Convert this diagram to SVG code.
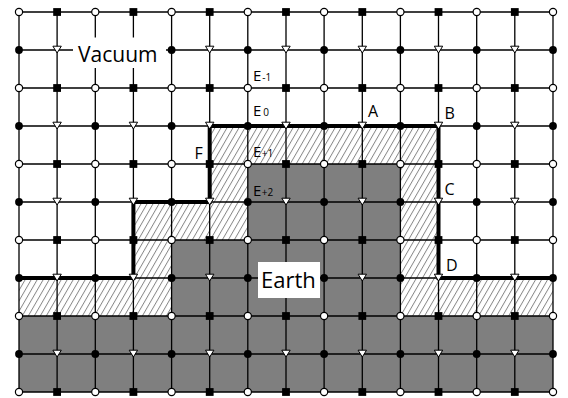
<svg xmlns="http://www.w3.org/2000/svg" xmlns:xlink="http://www.w3.org/1999/xlink" width="568" height="398" viewBox="0 0 568 398">
<style>
.grid{stroke:#000;stroke-width:1.3;fill:none}
.bound{stroke:#000;stroke-width:4;fill:none;stroke-linejoin:miter;stroke-linecap:square}
.lbl{font-family:"Open Sans","Liberation Sans",sans-serif;fill:#000}
.big{font-size:21px}
.let{font-size:16px}
.e{font-size:15px}
.sub{font-size:10px}
</style>
<defs>
<pattern id="hatch" patternUnits="userSpaceOnUse" width="5.2" height="10" patternTransform="rotate(30)">
<rect width="5.2" height="10" fill="#fff"/>
<line x1="0.5" y1="0" x2="0.5" y2="10" stroke="#555" stroke-width="0.7"/>
</pattern>
<circle id="oc" r="3.6" fill="#fff" stroke="#000" stroke-width="1.2"/>
<rect id="sq" x="-3.9" y="-3.9" width="7.8" height="7.8" fill="#000"/>
<circle id="dot" r="3.9" fill="#000"/>
<polygon id="tri" points="-4.2,-3.8 4.2,-3.8 0,3" fill="#fff" stroke="#000" stroke-width="1"/>
</defs>
<rect width="568" height="398" fill="#fff"/>
<g id="regions">
<path id="hatched" fill="url(#hatch)" d="M19,278 H133.4 V202 H209.7 V126 H438.5 V278 H553 V316 H400.4 V164 H247.8 V240 H171.6 V316 H19 Z"/>
<path id="earth-fill" fill="#7f7f7f" d="M19,316 H171.6 V240 H247.8 V164 H400.4 V316 H553 V392 H19 Z"/>
</g>
<g id="connectors" class="grid">
<path d="M19,12 H553 M19,50 H553 M19,88 H553 M19,126 H553 M19,164 H553 M19,202 H553 M19,240 H553 M19,278 H553 M19,316 H553 M19,354 H553 M19,392 H553"/>
<path d="M19,12 V392 M57.1,12 V392 M95.3,12 V392 M133.4,12 V392 M171.6,12 V392 M209.7,12 V392 M247.8,12 V392 M286,12 V392 M324.1,12 V392 M362.3,12 V392 M400.4,12 V392 M438.5,12 V392 M476.7,12 V392 M514.8,12 V392 M553,12 V392"/>
</g>
<path id="boundary" class="bound" d="M19,278 H133.4 V202 H209.7 V126 H438.5 V278 H553"/>
<g id="vacuum-label">
<rect x="73" y="37.5" width="93" height="30.5" fill="#fff"/>
<text class="lbl big" x="78" y="61.7">Vacuum</text>
</g>
<g id="earth-label">
<rect x="258" y="262" width="62" height="36" fill="#fff"/>
<text class="lbl big" x="261" y="288" style="font-size:22px">Earth</text>
</g>
<g id="nodes">
<g id="row0">
<use xlink:href="#oc" x="19" y="12"/><use xlink:href="#sq" x="57.1" y="12"/><use xlink:href="#oc" x="95.3" y="12"/><use xlink:href="#sq" x="133.4" y="12"/><use xlink:href="#oc" x="171.6" y="12"/><use xlink:href="#sq" x="209.7" y="12"/><use xlink:href="#oc" x="247.8" y="12"/><use xlink:href="#sq" x="286" y="12"/><use xlink:href="#oc" x="324.1" y="12"/><use xlink:href="#sq" x="362.3" y="12"/><use xlink:href="#oc" x="400.4" y="12"/><use xlink:href="#sq" x="438.5" y="12"/><use xlink:href="#oc" x="476.7" y="12"/><use xlink:href="#sq" x="514.8" y="12"/><use xlink:href="#oc" x="553" y="12"/>
</g>
<g id="row1">
<use xlink:href="#dot" x="19" y="50"/><use xlink:href="#tri" x="57.1" y="50"/><use xlink:href="#dot" x="171.6" y="50"/><use xlink:href="#tri" x="209.7" y="50"/><use xlink:href="#dot" x="247.8" y="50"/><use xlink:href="#tri" x="286" y="50"/><use xlink:href="#dot" x="324.1" y="50"/><use xlink:href="#tri" x="362.3" y="50"/><use xlink:href="#dot" x="400.4" y="50"/><use xlink:href="#tri" x="438.5" y="50"/><use xlink:href="#dot" x="476.7" y="50"/><use xlink:href="#tri" x="514.8" y="50"/><use xlink:href="#dot" x="553" y="50"/>
</g>
<g id="row2">
<use xlink:href="#oc" x="19" y="88"/><use xlink:href="#sq" x="57.1" y="88"/><use xlink:href="#oc" x="95.3" y="88"/><use xlink:href="#sq" x="133.4" y="88"/><use xlink:href="#oc" x="171.6" y="88"/><use xlink:href="#sq" x="209.7" y="88"/><use xlink:href="#oc" x="247.8" y="88"/><use xlink:href="#sq" x="286" y="88"/><use xlink:href="#oc" x="324.1" y="88"/><use xlink:href="#sq" x="362.3" y="88"/><use xlink:href="#oc" x="400.4" y="88"/><use xlink:href="#sq" x="438.5" y="88"/><use xlink:href="#oc" x="476.7" y="88"/><use xlink:href="#sq" x="514.8" y="88"/><use xlink:href="#oc" x="553" y="88"/>
</g>
<g id="row3">
<use xlink:href="#dot" x="19" y="126"/><use xlink:href="#tri" x="57.1" y="126"/><use xlink:href="#dot" x="95.3" y="126"/><use xlink:href="#tri" x="133.4" y="126"/><use xlink:href="#dot" x="171.6" y="126"/><use xlink:href="#tri" x="209.7" y="126"/><use xlink:href="#dot" x="247.8" y="126"/><use xlink:href="#tri" x="286" y="126"/><use xlink:href="#dot" x="324.1" y="126"/><use xlink:href="#tri" x="362.3" y="126"/><use xlink:href="#dot" x="400.4" y="126"/><use xlink:href="#tri" x="438.5" y="126"/><use xlink:href="#dot" x="476.7" y="126"/><use xlink:href="#tri" x="514.8" y="126"/><use xlink:href="#dot" x="553" y="126"/>
</g>
<g id="row4">
<use xlink:href="#oc" x="19" y="164"/><use xlink:href="#sq" x="57.1" y="164"/><use xlink:href="#oc" x="95.3" y="164"/><use xlink:href="#sq" x="133.4" y="164"/><use xlink:href="#oc" x="171.6" y="164"/><use xlink:href="#sq" x="209.7" y="164"/><use xlink:href="#oc" x="247.8" y="164"/><use xlink:href="#sq" x="286" y="164"/><use xlink:href="#oc" x="324.1" y="164"/><use xlink:href="#sq" x="362.3" y="164"/><use xlink:href="#oc" x="400.4" y="164"/><use xlink:href="#sq" x="438.5" y="164"/><use xlink:href="#oc" x="476.7" y="164"/><use xlink:href="#sq" x="514.8" y="164"/><use xlink:href="#oc" x="553" y="164"/>
</g>
<g id="row5">
<use xlink:href="#dot" x="19" y="202"/><use xlink:href="#tri" x="57.1" y="202"/><use xlink:href="#dot" x="95.3" y="202"/><use xlink:href="#tri" x="133.4" y="202"/><use xlink:href="#dot" x="171.6" y="202"/><use xlink:href="#tri" x="209.7" y="202"/><use xlink:href="#dot" x="247.8" y="202"/><use xlink:href="#tri" x="286" y="202"/><use xlink:href="#dot" x="324.1" y="202"/><use xlink:href="#tri" x="362.3" y="202"/><use xlink:href="#dot" x="400.4" y="202"/><use xlink:href="#tri" x="438.5" y="202"/><use xlink:href="#dot" x="476.7" y="202"/><use xlink:href="#tri" x="514.8" y="202"/><use xlink:href="#dot" x="553" y="202"/>
</g>
<g id="row6">
<use xlink:href="#oc" x="19" y="240"/><use xlink:href="#sq" x="57.1" y="240"/><use xlink:href="#oc" x="95.3" y="240"/><use xlink:href="#sq" x="133.4" y="240"/><use xlink:href="#oc" x="171.6" y="240"/><use xlink:href="#sq" x="209.7" y="240"/><use xlink:href="#oc" x="247.8" y="240"/><use xlink:href="#sq" x="286" y="240"/><use xlink:href="#oc" x="324.1" y="240"/><use xlink:href="#sq" x="362.3" y="240"/><use xlink:href="#oc" x="400.4" y="240"/><use xlink:href="#sq" x="438.5" y="240"/><use xlink:href="#oc" x="476.7" y="240"/><use xlink:href="#sq" x="514.8" y="240"/><use xlink:href="#oc" x="553" y="240"/>
</g>
<g id="row7">
<use xlink:href="#dot" x="19" y="278"/><use xlink:href="#tri" x="57.1" y="278"/><use xlink:href="#dot" x="95.3" y="278"/><use xlink:href="#tri" x="133.4" y="278"/><use xlink:href="#dot" x="171.6" y="278"/><use xlink:href="#tri" x="209.7" y="278"/><use xlink:href="#dot" x="247.8" y="278"/><use xlink:href="#dot" x="324.1" y="278"/><use xlink:href="#tri" x="362.3" y="278"/><use xlink:href="#dot" x="400.4" y="278"/><use xlink:href="#tri" x="438.5" y="278"/><use xlink:href="#dot" x="476.7" y="278"/><use xlink:href="#tri" x="514.8" y="278"/><use xlink:href="#dot" x="553" y="278"/>
</g>
<g id="row8">
<use xlink:href="#oc" x="19" y="316"/><use xlink:href="#sq" x="57.1" y="316"/><use xlink:href="#oc" x="95.3" y="316"/><use xlink:href="#sq" x="133.4" y="316"/><use xlink:href="#oc" x="171.6" y="316"/><use xlink:href="#sq" x="209.7" y="316"/><use xlink:href="#oc" x="247.8" y="316"/><use xlink:href="#sq" x="286" y="316"/><use xlink:href="#oc" x="324.1" y="316"/><use xlink:href="#sq" x="362.3" y="316"/><use xlink:href="#oc" x="400.4" y="316"/><use xlink:href="#sq" x="438.5" y="316"/><use xlink:href="#oc" x="476.7" y="316"/><use xlink:href="#sq" x="514.8" y="316"/><use xlink:href="#oc" x="553" y="316"/>
</g>
<g id="row9">
<use xlink:href="#dot" x="19" y="354"/><use xlink:href="#tri" x="57.1" y="354"/><use xlink:href="#dot" x="95.3" y="354"/><use xlink:href="#tri" x="133.4" y="354"/><use xlink:href="#dot" x="171.6" y="354"/><use xlink:href="#tri" x="209.7" y="354"/><use xlink:href="#dot" x="247.8" y="354"/><use xlink:href="#tri" x="286" y="354"/><use xlink:href="#dot" x="324.1" y="354"/><use xlink:href="#tri" x="362.3" y="354"/><use xlink:href="#dot" x="400.4" y="354"/><use xlink:href="#tri" x="438.5" y="354"/><use xlink:href="#dot" x="476.7" y="354"/><use xlink:href="#tri" x="514.8" y="354"/><use xlink:href="#dot" x="553" y="354"/>
</g>
<g id="row10">
<use xlink:href="#oc" x="19" y="392"/><use xlink:href="#sq" x="57.1" y="392"/><use xlink:href="#oc" x="95.3" y="392"/><use xlink:href="#sq" x="133.4" y="392"/><use xlink:href="#oc" x="171.6" y="392"/><use xlink:href="#sq" x="209.7" y="392"/><use xlink:href="#oc" x="247.8" y="392"/><use xlink:href="#sq" x="286" y="392"/><use xlink:href="#oc" x="324.1" y="392"/><use xlink:href="#sq" x="362.3" y="392"/><use xlink:href="#oc" x="400.4" y="392"/><use xlink:href="#sq" x="438.5" y="392"/><use xlink:href="#oc" x="476.7" y="392"/><use xlink:href="#sq" x="514.8" y="392"/><use xlink:href="#oc" x="553" y="392"/>
</g>
</g>
<g id="labels" class="lbl">
<text class="e" x="253" y="80.5">E<tspan class="sub" dx="1">-1</tspan></text>
<text class="e" x="253" y="116">E<tspan class="sub" dx="2">0</tspan></text>
<text class="e" x="253" y="156.5">E<tspan class="sub" dx="0.5">+1</tspan></text>
<text class="e" x="253" y="196">E<tspan class="sub" dx="0.5">+2</tspan></text>
<text class="let" x="368" y="116.7">A</text>
<text class="let" x="444.5" y="119">B</text>
<text class="let" x="444.5" y="195">C</text>
<text class="let" x="446" y="270.7">D</text>
<text class="let" x="194.5" y="159.3">F</text>
</g>
</svg>
